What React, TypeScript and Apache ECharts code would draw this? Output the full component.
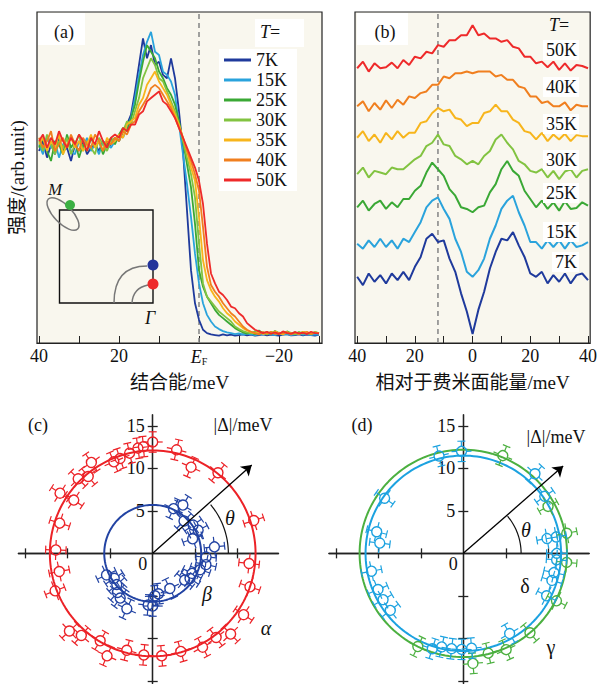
import { useEffect, useRef } from 'react';
import * as echarts from 'echarts';

const SERIF = "'Liberation Serif', 'Times New Roman', 'Noto Sans CJK SC', serif";

// ---------- shared ----------
const temperatures = ['7K', '15K', '25K', '30K', '35K', '40K', '50K'];
const tempColors = ['#1f3a9c', '#2aa3dc', '#3aa835', '#82c341', '#f7b51c', '#f07f1f', '#ee2a2a'];

// ---------- panel (a): EDC vs binding energy (meV) ----------
const bindingEnergy = [40, 39, 38, 37, 36, 35, 34, 33, 32, 31, 30, 29, 28, 27, 26, 25, 24, 23, 22, 21, 20, 19, 18, 17, 16, 15, 14, 13, 12, 11, 10, 9, 8, 7, 6, 5, 4, 3, 2, 1, 0, -1, -2, -3, -4, -5, -6, -7, -8, -9, -10, -11, -12, -13, -14, -15, -16, -17, -18, -19, -20, -21, -22, -23, -24, -25, -26, -27, -28, -29, -30];
const edc7K = [58, 61, 56, 60, 57, 62, 58, 59, 55, 60, 58, 61, 57, 59, 60, 58, 61, 59, 60, 62, 61, 64, 66, 69, 76, 84, 92, 86, 90, 84, 85, 81, 80, 86, 80, 70, 58, 40, 22, 12, 7, 4, 3, 2.6, 2.4, 2.2, 2.6, 2.3, 2.5, 2.2, 2.4, 2.6, 2.3, 2.5, 2.2, 2.4, 2.6, 2.3, 2.5, 2.4, 2.2, 2.5, 2.7, 2.3, 2.4, 2.6, 2.3, 2.5, 2.4, 2.2, 2.5];
const edc15K = [60, 57, 62, 59, 61, 56, 60, 62, 58, 57, 61, 59, 62, 58, 60, 57, 61, 60, 59, 61, 63, 62, 65, 68, 74, 81, 87, 91, 94, 88, 87, 82, 81, 79, 75, 66, 57, 48, 38, 27, 18, 12, 8.5, 6.5, 5, 4.2, 3.6, 3.2, 3, 2.7, 2.9, 2.5, 2.8, 2.6, 2.4, 2.7, 2.5, 2.9, 2.6, 2.4, 2.8, 2.5, 2.7, 2.4, 2.6, 2.9, 2.5, 2.7, 2.4, 2.6, 2.5];
const edc25K = [59, 62, 58, 55, 61, 60, 57, 63, 59, 61, 56, 60, 58, 62, 59, 61, 57, 60, 62, 60, 63, 65, 64, 68, 72, 79, 85, 90, 88, 86, 82, 80, 77, 75, 72, 67, 61, 54, 47, 36, 22, 17, 14, 12, 10, 8.5, 7.5, 6.5, 5.5, 4.5, 3.8, 3.2, 2.8, 3.4, 2.6, 3.8, 2.9, 3.3, 2.7, 3.6, 3, 2.8, 3.5, 2.9, 3.2, 2.7, 3.4, 3, 2.8, 3.3, 3];
const edc30K = [61, 58, 63, 60, 57, 61, 59, 62, 57, 60, 63, 58, 61, 59, 57, 62, 60, 58, 61, 62, 61, 64, 67, 66, 70, 74, 80, 83, 86, 84, 80, 79, 76, 73, 70, 66, 61, 56, 51, 44, 30, 18, 14, 12.5, 11, 9.5, 8.5, 7.5, 6.5, 5, 4.2, 3.6, 3.2, 2.9, 3.5, 2.8, 3.2, 2.6, 3.4, 3, 2.7, 3.3, 2.9, 3.1, 2.6, 3.4, 2.8, 3.1, 2.7, 3.2, 3];
const edc35K = [60, 62, 58, 61, 59, 63, 57, 60, 62, 59, 61, 58, 60, 63, 59, 61, 58, 62, 60, 61, 63, 62, 66, 67, 68, 72, 74, 78, 80, 82, 79, 77, 75, 72, 69, 66, 62, 58, 53, 49, 38, 25, 19, 16, 14, 12.5, 10.5, 9, 8, 6.5, 5.5, 4.5, 3.8, 3.3, 2.9, 3.4, 2.7, 3.2, 2.8, 3.5, 3, 2.6, 3.3, 2.9, 3.1, 2.7, 3.4, 3, 2.8, 3.2, 2.9];
const edc40K = [62, 59, 61, 64, 58, 60, 62, 59, 63, 60, 58, 62, 60, 59, 63, 61, 58, 61, 60, 62, 61, 64, 63, 66, 67, 70, 72, 74, 77, 78, 77, 75, 73, 71, 68, 65, 62, 58, 55, 51, 46, 35, 23, 17.5, 15.5, 14, 12, 10.5, 9, 8, 6.5, 5, 4, 3.4, 3, 2.6, 3.3, 2.8, 3.4, 2.7, 3.1, 2.9, 3.3, 2.6, 3.2, 2.8, 3, 3.4, 2.7, 3.1, 2.9];
const edc50K = [61, 63, 59, 62, 60, 64, 61, 59, 62, 60, 63, 61, 58, 62, 60, 64, 61, 59, 62, 63, 62, 65, 64, 66, 66, 69, 70, 73, 74, 75, 76, 73, 72, 70, 68, 65, 62, 59, 56, 53, 49, 42, 30, 21, 18, 15.5, 14.5, 13, 11, 10.5, 9, 8, 6, 5, 4, 3.5, 3, 3.4, 2.8, 3.2, 2.7, 3.5, 3, 2.8, 3.3, 2.9, 3.1, 2.7, 3.4, 3, 2.9];
const edcCurves = [edc7K, edc15K, edc25K, edc30K, edc35K, edc40K, edc50K];
const fermiLevel = 0;

// ---------- panel (b): symmetrized spectra, offset ----------
const relEnergy = [-40, -38, -36, -34, -32, -30, -28, -26, -24, -22, -20, -18, -16, -14, -12, -10, -8, -6, -4, -2, 0, 2, 4, 6, 8, 10, 12, 14, 16, 18, 20, 22, 24, 26, 28, 30, 32, 34, 36, 38, 40];
const sym7K = [20, 17.5, 21, 18.5, 20.5, 18, 21, 19, 21.5, 19, 23, 26, 31.5, 33, 30.5, 31, 25.5, 21.5, 15, 9.5, 2.7, 10, 15.5, 22.5, 27.5, 31.5, 31, 33.5, 29.5, 26, 21, 20, 21.5, 18, 20.5, 18.5, 21, 18, 20.5, 21, 19];
const sym15K = [30, 28.5, 31, 29, 31.5, 29, 31, 28.5, 31.5, 30.5, 33.5, 36.5, 41, 43, 44, 40.5, 37.5, 31.5, 27.5, 21.5, 20, 22, 25.5, 31.5, 35.5, 40.5, 43, 44.5, 39.5, 35.5, 30.5, 30.5, 28.5, 31, 29, 31, 28.5, 31, 29, 29.5, 30.5];
const sym25K = [41, 43, 40, 42, 43, 40.5, 42.5, 41, 43.5, 43.5, 46, 47.5, 51.5, 54.5, 52.5, 50.5, 46.5, 44.5, 41, 40.5, 39.5, 41, 41.5, 45.5, 48, 52.5, 55, 52, 50.5, 46, 43.5, 41, 43, 40.5, 42.5, 40, 42.8, 40.5, 40.8, 42.5, 41.5];
const sym30K = [51, 53, 50, 52, 51.5, 51, 53, 52.5, 52.5, 54, 55.5, 56.5, 59.5, 60.5, 63, 60, 59.5, 56.5, 55.5, 54, 55, 54, 56.5, 58, 61.5, 63, 60.5, 58.5, 55, 54, 52, 51.5, 52.5, 50, 52, 49.5, 51.8, 52.5, 50, 52, 52.5];
const sym35K = [62, 64, 61, 63, 60.5, 63.5, 61.5, 64, 62, 63.5, 63.5, 66.5, 67, 69.5, 71, 70, 70.5, 68, 67.5, 65.5, 66.5, 66.5, 69.5, 70, 72, 70, 70, 67.5, 66.5, 64, 63.5, 61.5, 63.5, 61, 63, 61.5, 63.2, 61, 62.8, 62.5, 62.5];
const sym40K = [71.5, 73, 70, 72.5, 70.5, 73.3, 71, 73.5, 72, 74.5, 74, 75.5, 76, 78, 78, 80.5, 80, 81.5, 81.5, 82, 81.5, 82, 82, 82, 80.5, 81, 79.5, 79.5, 77.5, 77, 74.5, 74.5, 72.5, 73, 71.5, 71.5, 72.7, 70.3, 72, 71.5, 71.5];
const sym50K = [83, 85, 82, 84.5, 83, 83.3, 84.7, 83, 85.5, 84, 86.5, 86, 88, 87.5, 90, 89.5, 91.5, 91.5, 93, 93, 96, 93, 93.5, 92, 92, 91, 91.5, 89.5, 89, 86.5, 86.5, 84.5, 85, 83.3, 85, 82.5, 84.5, 82.3, 84, 83.7, 83];
const symCurves = [sym7K, sym15K, sym25K, sym30K, sym35K, sym40K, sym50K];
const symLabelY = [262, 232, 193, 160, 124, 87, 50];
const gapEnergyMarker = -12;

// ---------- panels (c), (d): gap |Δ| (meV) vs angle θ (deg) ----------
const alphaPts = [[18, 12.5], [51, 12.2], [66, 11.1], [77, 12.5], [90, 13.1], [95, 12.6], [98, 12.5], [103, 12.1], [109, 11.8], [113, 11.7], [124, 12.9], [130, 11.8], [135, 12.4], [146, 11.2], [147, 13.0], [162, 11.5], [178, 11.4], [191, 11.2], [201, 12.3], [223, 13.4], [229, 12.8], [239, 12.0], [246, 13.2], [255, 11.8], [265, 12.0], [275, 12.1], [286, 12.0], [298, 12.5], [307, 12.4], [314, 13.2], [326, 12.9], [341, 12.1], [354, 11.4]];
const betaPts = [[6, 7.3], [20, 5.0], [27, 6.0], [35, 5.8], [46, 5.3], [58, 6.7], [65, 5.8], [205, 6.0], [213, 5.4], [221, 5.6], [228, 6.2], [234, 6.5], [245, 7.2], [265, 6.1], [270, 6.2], [273, 5.0], [278, 4.8], [296, 4.6], [320, 4.9], [326, 5.3], [333, 5.2], [341, 5.9], [348, 6.4], [356, 6.3]];
const gammaPts = [[11, 12.4], [29, 11.4], [68, 12.4], [244, 12.2], [275, 13.0], [284, 12.1], [294, 12.4], [310, 12.2], [333, 12.3], [355, 12.2]];
const deltaPts = [[0, 11.0], [10, 11.1], [10, 10.0], [35, 11.7], [48, 12.6], [91, 12.0], [104, 11.8], [145, 11.3], [166, 10.5], [173, 9.9], [191, 11.0], [203, 10.9], [210, 10.9], [218, 10.9], [252, 11.8], [257, 11.3], [263, 11.3], [269, 11.3], [275, 11.2], [300, 10.9], [333, 11.0], [343, 10.9], [348, 10.9], [356, 11.0]];
const fitAlpha = 12.1;
const fitBeta = 5.7;
const fitGamma = 12.2;
const fitDelta = 11.5;
const gapError = 1.2;
const arrowC = [11.65, 10.4];
const arrowD = [11.75, 10.27];
const thetaArcC = 8.9;
const thetaArcD = 6.8;
const polarTicks = [-15, -10, -5, 5, 10, 15];
const polarLabels = [5, 10, 15];
const polarXRange = [-15.8, 14.8];
const polarYRange = [-15.3, 16.3];

const colAlpha = '#ec2227';
const colBeta = '#2243a3';
const colGamma = '#4cb040';
const colDelta = '#1ca2e0';

const D2R = Math.PI / 180;
const toXY = (th: number, r: number) => [r * Math.cos(th * D2R), r * Math.sin(th * D2R)];
const circle = (R: number, a0 = 0, a1 = 360) => {
  const out: number[][] = [];
  for (let a = a0; a <= a1 + 1e-9; a += 2) out.push(toXY(a, R));
  return out;
};

function errRender(color: string) {
  return (_p: any, api: any) => {
    const th = api.value(2) * D2R;
    const r = api.value(3);
    const c = Math.cos(th), s = Math.sin(th);
    const p = api.coord([r * c, r * s]);
    const pi = api.coord([(r - gapError) * c, (r - gapError) * s]);
    const po = api.coord([(r + gapError) * c, (r + gapError) * s]);
    const ux = c, uy = -s;
    const tx = s, ty = c;
    const rad = 5, cap = 4, tang = 10;
    const st = { stroke: color, lineWidth: 1.2 };
    const ln = (x1: number, y1: number, x2: number, y2: number) => ({ type: 'line', shape: { x1, y1, x2, y2 }, style: st });
    return {
      type: 'group',
      children: [
        ln(p[0] + ux * rad, p[1] + uy * rad, po[0], po[1]),
        ln(p[0] - ux * rad, p[1] - uy * rad, pi[0], pi[1]),
        ln(po[0] - tx * cap, po[1] - ty * cap, po[0] + tx * cap, po[1] + ty * cap),
        ln(pi[0] - tx * cap, pi[1] - ty * cap, pi[0] + tx * cap, pi[1] + ty * cap),
        ln(p[0] + tx * rad, p[1] + ty * rad, p[0] + tx * tang, p[1] + ty * tang),
        ln(p[0] - tx * rad, p[1] - ty * rad, p[0] - tx * tang, p[1] - ty * tang),
        { type: 'circle', shape: { cx: p[0], cy: p[1], r: rad }, style: { fill: 'none', stroke: color, lineWidth: 1.4 } },
      ],
    };
  };
}

function errSeries(pts: number[][], color: string, ai: number) {
  return {
    type: 'custom',
    xAxisIndex: ai,
    yAxisIndex: ai,
    silent: true,
    z: 5,
    encode: { x: 0, y: 1 },
    data: pts.map(([th, r]) => [...toXY(th, r), th, r]),
    renderItem: errRender(color),
  };
}

function fitSeries(R: number, color: string, ai: number) {
  return {
    type: 'line', xAxisIndex: ai, yAxisIndex: ai, data: circle(R), showSymbol: false, silent: true,
    lineStyle: { color, width: 2 }, z: 4,
  };
}

function thetaSeries(R: number, arrow: number[], ai: number) {
  const ang = Math.atan2(arrow[1], arrow[0]) / D2R;
  return {
    type: 'line', xAxisIndex: ai, yAxisIndex: ai, data: circle(R, 0, ang), showSymbol: false, silent: true,
    lineStyle: { color: '#111', width: 1.2 }, z: 6,
    markLine: {
      silent: true, symbol: ['none', 'arrow'], symbolSize: 10, z: 6,
      label: { show: false },
      lineStyle: { color: '#000', width: 1.3, type: 'solid' },
      data: [[{ coord: [0, 0] }, { coord: arrow }]],
    },
  };
}

const textEl = (text: string, x: number, y: number, opts: any = {}) => ({
  type: 'text', x, y, z: 100,
  style: {
    text, fill: '#111', fontSize: 18, fontFamily: SERIF, textAlign: 'center', textVerticalAlign: 'middle', ...opts,
  },
});

// axes of a polar-like panel, placed through the origin with a (negative) offset
function polarAxes(grid: number, gw: number, gh: number) {
  const [x0, x1] = polarXRange;
  const [y0, y1] = polarYRange;
  const offX = -gh * (0 - y0) / (y1 - y0);
  const offY = -gw * (0 - x0) / (x1 - x0);
  const line = { onZero: false, lineStyle: { color: '#222', width: 1.3 } };
  const tick = (inside: boolean) => ({ customValues: polarTicks, length: 5, inside, lineStyle: { color: '#222', width: 1.3 } });
  const xs = [
    {
      type: 'value', gridIndex: grid, min: x0, max: x1, position: 'bottom', offset: offX,
      axisLine: line, axisTick: tick(false),
      axisLabel: { customValues: [0], formatter: () => '0', padding: [0, 20, 0, 0], margin: 2, fontSize: 18, fontFamily: SERIF, color: '#111' },
      splitLine: { show: false },
    },
    {
      type: 'value', gridIndex: grid, min: x0, max: x1, position: 'bottom', offset: offX,
      axisLine: line, axisTick: tick(true), axisLabel: { show: false }, splitLine: { show: false },
    },
  ];
  const ys = [
    {
      type: 'value', gridIndex: grid, min: y0, max: y1, position: 'left', offset: offY,
      axisLine: line, axisTick: tick(false),
      axisLabel: { customValues: polarLabels, margin: 8, fontSize: 18, fontFamily: SERIF, color: '#111' },
      splitLine: { show: false },
    },
    {
      type: 'value', gridIndex: grid, min: y0, max: y1, position: 'left', offset: offY,
      axisLine: line, axisTick: tick(true), axisLabel: { show: false }, splitLine: { show: false },
    },
  ];
  return { xs, ys };
}

export default function App() {
  const ref = useRef<HTMLDivElement>(null);
  useEffect(() => {
    if (!ref.current) return;
    const chart = echarts.init(ref.current, undefined, { renderer: 'svg' });
    const PW = 260.1, PH = 268.6;
    const pc = polarAxes(2, PW, PH);
    const pd = polarAxes(3, PW, PH);

    const frameGrid = { show: true, backgroundColor: '#f9f7ee', borderColor: '#222', borderWidth: 1.2 };
    const labelFont = { fontSize: 18, fontFamily: SERIF, color: '#111' };

    const option: any = {
      animation: false,
      backgroundColor: '#fff',
      textStyle: { fontFamily: SERIF },
      grid: [
        { left: 37, top: 12, width: 285, height: 331, ...frameGrid },
        { left: 355, top: 12, width: 238, height: 331, ...frameGrid },
        { left: 18.4, top: 414.8, width: PW, height: PH },
        { left: 329, top: 414.8, width: PW, height: PH },
      ],
      legend: {
        data: temperatures, orient: 'vertical', left: 219, top: 49,
        itemWidth: 27, itemHeight: 3, itemGap: 2, icon: 'rect',
        backgroundColor: '#fff', padding: [2, 10, 2, 5],
        textStyle: { ...labelFont, lineHeight: 18 },
        selectedMode: false,
      },
      xAxis: [
        {
          type: 'value', gridIndex: 0, min: -30.75, max: 40.5, inverse: true,
          axisLine: { lineStyle: { color: '#222', width: 1.2 } },
          axisTick: { customValues: [-30, -20, -10, 0, 10, 20, 30, 40], inside: true, length: 7, lineStyle: { color: '#222' } },
          axisLabel: {
            customValues: [-20, 0, 20, 40], margin: 4, ...labelFont,
            formatter: (v: number) => (v === 0 ? '{e|E}{f|F}' : v < 0 ? '\u2212' + Math.abs(v) : String(v)),
            rich: {
              e: { fontStyle: 'italic', fontSize: 18, fontFamily: SERIF, color: '#111' },
              f: { fontSize: 10, fontFamily: SERIF, color: '#111', padding: [10, 0, 0, 0] },
            },
          },
          splitLine: { show: false },
          name: '结合能/meV', nameLocation: 'middle', nameGap: 30,
          nameTextStyle: { fontSize: 19, fontFamily: SERIF, color: '#111' },
        },
        {
          type: 'value', gridIndex: 1, min: -40.75, max: 40.75,
          axisLine: { lineStyle: { color: '#222', width: 1.2 } },
          axisTick: { customValues: [-40, -30, -20, -10, 0, 10, 20, 30, 40], inside: true, length: 7, lineStyle: { color: '#222' } },
          axisLabel: { customValues: [-40, -20, 0, 20, 40], margin: 4, ...labelFont, formatter: (v: number) => String(Math.abs(v)) },
          splitLine: { show: false },
          name: '相对于费米面能量/meV', nameLocation: 'middle', nameGap: 30,
          nameTextStyle: { fontSize: 19, fontFamily: SERIF, color: '#111' },
        },
        ...pc.xs,
        ...pd.xs,
      ],
      yAxis: [
        {
          type: 'value', gridIndex: 0, min: 0, max: 100,
          axisLine: { show: false }, axisTick: { show: false }, axisLabel: { show: false }, splitLine: { show: false },
          name: '强度/(arb.unit)', nameLocation: 'middle', nameGap: 10, nameRotate: 90,
          nameTextStyle: { fontSize: 19, fontFamily: SERIF, color: '#111' },
        },
        {
          type: 'value', gridIndex: 1, min: 0, max: 100,
          axisLine: { show: false }, axisTick: { show: false }, axisLabel: { show: false }, splitLine: { show: false },
        },
        ...pc.ys,
        ...pd.ys,
      ],
      series: [
        {
          type: 'line', xAxisIndex: 0, yAxisIndex: 0, silent: true, showSymbol: false, z: 1,
          data: [[fermiLevel, 0], [fermiLevel, 100]],
          lineStyle: { color: '#8a8a8a', width: 1.6, type: [5, 4] },
        },
        {
          type: 'line', xAxisIndex: 1, yAxisIndex: 1, silent: true, showSymbol: false, z: 1,
          data: [[gapEnergyMarker, 0], [gapEnergyMarker, 100]],
          lineStyle: { color: '#8a8a8a', width: 1.6, type: [5, 4] },
        },
        ...temperatures.map((t, i) => ({
          type: 'line', name: t, xAxisIndex: 0, yAxisIndex: 0, showSymbol: false, silent: true,
          data: bindingEnergy.map((x, j) => [x, edcCurves[i][j]]),
          lineStyle: { color: tempColors[i], width: 1.8 }, itemStyle: { color: tempColors[i] },
        })),
        ...temperatures.map((t, i) => ({
          type: 'line', name: t, xAxisIndex: 1, yAxisIndex: 1, showSymbol: false, silent: true,
          data: relEnergy.map((x, j) => [x, symCurves[i][j]]),
          lineStyle: { color: tempColors[i], width: 2 }, itemStyle: { color: tempColors[i] },
        })),
        fitSeries(fitAlpha, colAlpha, 2),
        fitSeries(fitBeta, colBeta, 2),
        errSeries(alphaPts, colAlpha, 2),
        errSeries(betaPts, colBeta, 2),
        thetaSeries(thetaArcC, arrowC, 2),
        fitSeries(fitGamma, colGamma, 4),
        fitSeries(fitDelta, colDelta, 4),
        errSeries(gammaPts, colGamma, 4),
        errSeries(deltaPts, colDelta, 4),
        thetaSeries(thetaArcD, arrowD, 4),
      ],
      graphic: [
        // panel (a)
        { type: 'rect', z: 1, shape: { x: 38, y: 13, width: 47, height: 32 }, style: { fill: '#fff' } },
        { type: 'rect', z: 1, shape: { x: 255, y: 19, width: 49, height: 28 }, style: { fill: '#fff' } },
        textEl('(a)', 64, 32),
        textEl('{i|T}=', 270, 32, { rich: { i: { fontStyle: 'italic', fontSize: 18, fontFamily: SERIF } } }),
        // inset
        { type: 'rect', z: 20, shape: { x: 59.5, y: 210, width: 93.5, height: 93 }, style: { fill: 'none', stroke: '#111', lineWidth: 1.4 } },
        { type: 'ellipse', z: 21, x: 63, y: 214, rotation: -0.8, shape: { cx: 0, cy: 0, rx: 21, ry: 9 }, style: { fill: 'none', stroke: '#777', lineWidth: 1.5 } },
        { type: 'circle', z: 22, shape: { cx: 70, cy: 205, r: 5 }, style: { fill: '#3cb043' } },
        { type: 'bezierCurve', z: 21, shape: { x1: 114, y1: 303, x2: 147, y2: 266, cpx1: 114, cpy1: 266 }, style: { fill: 'none', stroke: '#777', lineWidth: 1.5 } },
        { type: 'bezierCurve', z: 21, shape: { x1: 132, y1: 303, x2: 148, y2: 285, cpx1: 133, cpy1: 288 }, style: { fill: 'none', stroke: '#777', lineWidth: 1.5 } },
        { type: 'circle', z: 22, shape: { cx: 153, cy: 265, r: 5.5 }, style: { fill: '#23349a' } },
        { type: 'circle', z: 22, shape: { cx: 153, cy: 284, r: 5.5 }, style: { fill: '#ee2a2a' } },
        textEl('M', 55, 189, { fontStyle: 'italic', fontSize: 17 }),
        textEl('Γ', 150, 318, { fontStyle: 'italic', fontSize: 18 }),
        // panel (b)
        { type: 'rect', z: 1, shape: { x: 357, y: 13, width: 51, height: 32 }, style: { fill: '#fff' } },
        textEl('(b)', 385, 32),
        textEl('{i|T}=', 559, 25, { rich: { i: { fontStyle: 'italic', fontSize: 18, fontFamily: SERIF } } }),
        ...temperatures.map((t, i) => textEl(t, 579, symLabelY[i], { textAlign: 'right', backgroundColor: '#fff', padding: [1, 2, 1, 3] })),
        // panel (c)
        textEl('(c)', 38, 425),
        textEl('|Δ|/meV', 243, 425),
        textEl('θ', 230, 518, { fontStyle: 'italic', fontSize: 20 }),
        textEl('β', 207, 594, { fontStyle: 'italic', fontSize: 20 }),
        textEl('α', 266, 628, { fontStyle: 'italic', fontSize: 20 }),
        // panel (d)
        textEl('(d)', 362, 425),
        textEl('|Δ|/meV', 556, 437),
        textEl('θ', 526, 530, { fontStyle: 'italic', fontSize: 20 }),
        textEl('δ', 525, 586, { fontSize: 20 }),
        textEl('γ', 551, 647, { fontSize: 20 }),
      ],
    };
    chart.setOption(option);
    return () => chart.dispose();
  }, []);
  return <div ref={ref} style={{ position: 'fixed', left: 0, top: 0, width: 600, height: 690, background: '#fff' }} />;
}
